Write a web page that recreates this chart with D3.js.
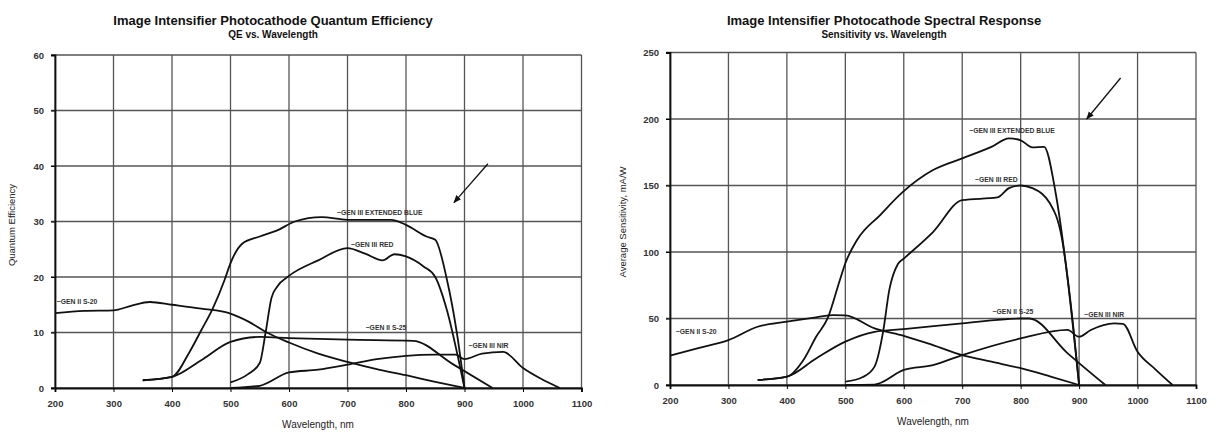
<!DOCTYPE html>
<html>
<head>
<meta charset="utf-8">
<script src="https://cdn.jsdelivr.net/npm/d3@7"></script>
<style>
  body { margin: 0; background: #fff; }
  svg { display: block; font-family: "Liberation Sans", Arial, sans-serif; }
  .tick text { font-size: 9.5px; font-weight: bold; fill: #333; }
  .grid line { stroke: #555; stroke-width: 1.3; }
  .curve { fill: none; stroke: #111; stroke-width: 1.8; }
  .lbl { font-size: 6.8px; font-weight: bold; fill: #333; }
</style>
</head>
<body>
<div id="chart"></div>
<script>
// wavelength ticks shared by both charts
var xTicks = [200, 300, 400, 500, 600, 700, 800, 900, 1000, 1100];
var qeTicks = [0, 10, 20, 30, 40, 50, 60];
var sensTicks = [0, 50, 100, 150, 200, 250];

// ---- Quantum efficiency (%) ----
var qeS20 = [[200, 13.5], [250, 13.9], [300, 14], [330, 14.8], [362, 15.5], [400, 15], [450, 14.3], [500, 13.4], [530, 12], [562, 10], [600, 8.2], [650, 6.2], [700, 4.7], [750, 3.4], [800, 2.3], [850, 1.1], [900, 0]];
var qeExtBlue = [[350, 1.4], [400, 2], [430, 6.5], [450, 10.4], [470, 14.4], [490, 19.5], [500, 22.5], [520, 26], [550, 27.3], [580, 28.4], [610, 30], [656, 30.8], [700, 30.3], [775, 30.3], [800, 29.4], [835, 27.3], [850, 26.7], [870, 19.5], [887, 9.9], [900, 0]];
var qeRed = [[500, 1], [530, 2.5], [550, 4.5], [560, 10], [570, 16.2], [580, 18.3], [600, 20.2], [650, 23], [700, 25.2], [730, 24.2], [760, 23], [780, 24.1], [800, 23.7], [830, 21.9], [850, 20], [870, 14], [890, 5], [900, 0]];
var qeS25 = [[350, 1.4], [400, 2], [450, 5], [500, 8.3], [550, 9.2], [600, 9], [700, 8.7], [812, 8.5], [880, 4.3], [948, 0]];
var qeNIR = [[500, 0], [550, 0.4], [600, 2.8], [650, 3.3], [700, 4.2], [750, 5.2], [800, 5.8], [850, 6], [885, 6], [900, 5.2], [930, 6.2], [966, 6.5], [1000, 3.6], [1030, 1.7], [1063, 0]];

// ---- Average sensitivity (mA/W) ----
var sS20 = [[200, 22], [250, 28], [300, 33.8], [350, 43.8], [400, 47.6], [450, 50.9], [480, 52.6], [500, 52.4], [550, 42.6], [600, 37], [650, 30], [700, 22.5], [750, 17.5], [800, 12.6], [850, 6.5], [900, 0]];
var sExtBlue = [[350, 3.8], [400, 6.3], [430, 20], [450, 36.3], [470, 50.4], [490, 78], [500, 91.5], [520, 109], [560, 128], [598, 145], [650, 161.6], [700, 170.4], [750, 179], [780, 185.5], [800, 184], [820, 178.7], [840, 179], [860, 144], [880, 81], [900, 0]];
var sRed = [[500, 2.5], [530, 6], [550, 13.8], [565, 41], [575, 71], [590, 91], [600, 95], [650, 115], [700, 139], [760, 141], [780, 148], [800, 150], [820, 148], [850, 136.6], [870, 111.5], [890, 43.8], [900, 0]];
var sS25 = [[350, 3.8], [400, 6.3], [450, 20], [500, 32.6], [550, 40], [600, 42], [700, 46.4], [800, 50], [815, 50], [880, 24], [945, 0]];
var sNIR = [[500, 0], [550, 0.3], [600, 11.3], [650, 15], [700, 22.5], [800, 35], [880, 41.4], [900, 36.3], [920, 41.4], [960, 46.4], [975, 46], [1000, 25], [1030, 12], [1060, 0]];

var labelsQE = [
  { text: "~GEN II S-20", x: 203, y: 15.6 },
  { text: "~GEN III EXTENDED BLUE", x: 682, y: 31.6 },
  { text: "~GEN III RED", x: 706, y: 25.8 },
  { text: "~GEN II S-25", x: 731, y: 10.9 },
  { text: "~GEN III NIR", x: 907, y: 7.6 }
];
var labelsSens = [
  { text: "~GEN II S-20", x: 210, y: 40.5 },
  { text: "~GEN III EXTENDED BLUE", x: 712, y: 191 },
  { text: "~GEN III RED", x: 722, y: 154.5 },
  { text: "~GEN II S-25", x: 752, y: 55.5 },
  { text: "~GEN III NIR", x: 909, y: 53 }
];

const W = 1219, H = 434;
const svg = d3.select("#chart").append("svg")
    .attr("width", W)
    .attr("height", H);

svg.append("defs").append("marker")
    .attr("id", "arrow")
    .attr("viewBox", "0 0 10 10")
    .attr("refX", 9).attr("refY", 5)
    .attr("markerWidth", 8).attr("markerHeight", 8)
    .attr("markerUnits", "userSpaceOnUse")
    .attr("orient", "auto")
    .append("path")
    .attr("d", "M0,1 L10,5 L0,9 Z")
    .attr("fill", "#111");

function drawChart(cfg) {
    const x = d3.scaleLinear().domain([200, 1100]).range([cfg.left, cfg.right]);
    const y = d3.scaleLinear().domain([0, cfg.yMax]).range([cfg.bottom, cfg.top]);
    const g = svg.append("g");

    // grid
    g.append("g").attr("class", "grid")
        .selectAll("line.v").data(xTicks).enter().append("line")
        .attr("x1", d => x(d)).attr("x2", d => x(d))
        .attr("y1", y(0)).attr("y2", y(cfg.yMax));
    g.append("g").attr("class", "grid")
        .selectAll("line.h").data(cfg.yTicks).enter().append("line")
        .attr("x1", x(200) - 4).attr("x2", x(1100))
        .attr("y1", d => y(d)).attr("y2", d => y(d));

    // axes
    const xAxis = d3.axisBottom(x).tickValues(xTicks).tickSize(4).tickPadding(8).tickFormat(d3.format("d"));
    const yAxis = d3.axisLeft(y).tickValues(cfg.yTicks).tickSize(4).tickPadding(7).tickFormat(d3.format("d"));
    g.append("g").attr("transform", `translate(0,${cfg.bottom})`).call(xAxis)
        .call(a => a.select(".domain").attr("stroke", "#111").attr("stroke-width", 1.8));
    g.append("g").attr("transform", `translate(${cfg.left},0)`).call(yAxis)
        .call(a => a.select(".domain").attr("stroke", "#111").attr("stroke-width", 1.8));

    // curves
    const line = d3.line()
        .x(d => x(d[0]))
        .y(d => y(d[1]))
        .curve(d3.curveMonotoneX);
    cfg.series.forEach(s => {
        g.append("path").attr("class", "curve").attr("d", line(s));
    });

    // curve labels
    g.selectAll("text.lbl").data(cfg.labels).enter().append("text")
        .attr("class", "lbl")
        .attr("x", d => x(d.x))
        .attr("y", d => y(d.y))
        .attr("dy", "0.35em")
        .text(d => d.text);

    // arrow
    g.append("line")
        .attr("x1", x(cfg.arrow[0])).attr("y1", y(cfg.arrow[1]))
        .attr("x2", x(cfg.arrow[2])).attr("y2", y(cfg.arrow[3]))
        .attr("stroke", "#111").attr("stroke-width", 1.3)
        .attr("marker-end", "url(#arrow)");

    // titles
    g.append("text").attr("x", cfg.titleX).attr("y", 25)
        .attr("text-anchor", "middle")
        .style("font-size", "13px").style("font-weight", "bold").style("fill", "#111")
        .text(cfg.title);
    g.append("text").attr("x", cfg.titleX).attr("y", 37.5)
        .attr("text-anchor", "middle")
        .style("font-size", "10px").style("font-weight", "bold").style("fill", "#111")
        .text(cfg.subtitle);

    // axis labels
    g.append("text")
        .attr("transform", `translate(${cfg.xLabelX},${cfg.bottom + 40})`)
        .attr("text-anchor", "middle")
        .style("font-size", "10px").style("fill", "#222")
        .text("Wavelength, nm");
    g.append("text")
        .attr("transform", `translate(${cfg.yLabelX},${cfg.yLabelY}) rotate(-90)`)
        .attr("text-anchor", "middle")
        .style("font-size", "9.5px").style("fill", "#222")
        .text(cfg.yLabel);
}

drawChart({
    left: 55, right: 581.5, top: 55, bottom: 388,
    yMax: 60, yTicks: qeTicks,
    series: [qeS20, qeExtBlue, qeRed, qeS25, qeNIR],
    labels: labelsQE,
    arrow: [940, 40.4, 882, 33.4],
    title: "Image Intensifier Photocathode Quantum Efficiency",
    subtitle: "QE vs. Wavelength",
    titleX: 273,
    xLabelX: 318,
    yLabel: "Quantum Efficiency",
    yLabelX: 15,
    yLabelY: 225
});

drawChart({
    left: 670, right: 1196, top: 52.5, bottom: 385,
    yMax: 250, yTicks: sensTicks,
    series: [sS20, sExtBlue, sRed, sS25, sNIR],
    labels: labelsSens,
    arrow: [971, 230.8, 913, 200],
    title: "Image Intensifier Photocathode Spectral Response",
    subtitle: "Sensitivity vs. Wavelength",
    titleX: 884,
    xLabelX: 933,
    yLabel: "Average Sensitivity, mA/W",
    yLabelX: 626,
    yLabelY: 222
});
</script>
</body>
</html>
